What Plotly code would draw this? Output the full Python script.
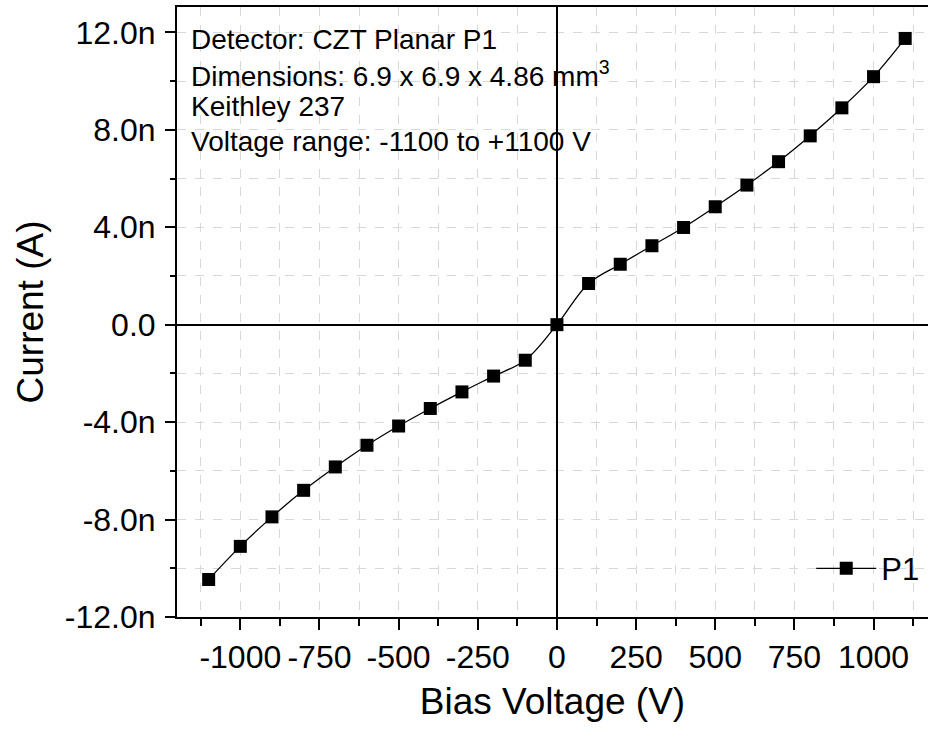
import plotly.graph_objects as go

# ---- data ----
bias_voltage = [-1100, -1000, -900, -800, -700, -600, -500, -400, -300, -200, -100,
                0, 100, 200, 300, 400, 500, 600, 700, 800, 900, 1000, 1100]
current_nA = [-10.46, -9.10, -7.89, -6.80, -5.84, -4.95, -4.16, -3.44, -2.76, -2.11, -1.46,
              0.0, 1.69, 2.48, 3.24, 3.99, 4.84, 5.73, 6.69, 7.75, 8.90, 10.18, 11.75]
series_name = "P1"

x_tick_vals = [-1000, -750, -500, -250, 0, 250, 500, 750, 1000]
x_tick_text = ["-1000", "-750", "-500", "-250", "0", "250", "500", "750", "1000"]
y_tick_vals = [-12, -8, -4, 0, 4, 8, 12]
y_tick_text = ["-12.0n", "-8.0n", "-4.0n", "0.0", "4.0n", "8.0n", "12.0n"]

info_lines = [
    "Detector: CZT Planar P1",
    "Dimensions: 6.9 x 6.9 x 4.86 mm<sup>3</sup>",
    "Keithley 237",
    "Voltage range: -1100 to +1100 V",
]

FONT = "Arial, Liberation Sans, sans-serif"
W, H = 928, 736
ML, MR, MT, MB = 177, 0, 7, 119

fig = go.Figure()
fig.add_trace(go.Scatter(
    x=bias_voltage, y=current_nA, name=series_name,
    mode="lines+markers",
    line=dict(color="black", width=1.3, shape="spline", smoothing=1.0),
    marker=dict(symbol="square", size=13, color="black"),
))

axis_common = dict(
    showline=True, linecolor="black", linewidth=2,
    ticks="outside", tickcolor="black", tickwidth=2,
    showgrid=False,
    zeroline=True, zerolinecolor="black", zerolinewidth=2.2,
    tickfont=dict(family=FONT, size=32, color="black"),
)

fig.update_xaxes(
    **axis_common,
    range=[-1200, 1172],
    tickmode="array", tickvals=x_tick_vals, ticktext=x_tick_text,
    ticklen=11,
    minor=dict(dtick=125, tick0=0, ticks="outside", ticklen=7, tickcolor="black",
               tickwidth=2, showgrid=True, gridcolor="#d8d8d8", griddash="dash", gridwidth=1),
    mirror=True,
    ticklabelstandoff=0,
    title=dict(text="Bias Voltage (V)", font=dict(family=FONT, size=37, color="black"), standoff=14),
)
fig.update_yaxes(
    **axis_common,
    range=[-12, 13.04],
    tickmode="array", tickvals=y_tick_vals, ticktext=y_tick_text,
    ticklen=10,
    minor=dict(dtick=2, tick0=0, ticks="outside", ticklen=5, tickcolor="black",
               tickwidth=2, showgrid=True, gridcolor="#d8d8d8", griddash="dash", gridwidth=1),
    mirror=False,
    ticklabelstandoff=3,
    title=dict(text="Current (A)", font=dict(family=FONT, size=37, color="black"), standoff=10),
)

plot_h = H - MT - MB
line_centers_px = [39, 74, 107, 141]
for txt, py in zip(info_lines, line_centers_px):
    fig.add_annotation(
        text=txt, xref="paper", yref="paper",
        x=(189 - ML) / (W - ML - MR), y=(H - MB - py) / plot_h,
        xanchor="left", yanchor="middle", showarrow=False,
        font=dict(family=FONT, size=28, color="black"),
    )

fig.update_layout(
    width=W, height=H,
    margin=dict(l=ML, r=MR, t=MT, b=MB, autoexpand=False),
    paper_bgcolor="white", plot_bgcolor="white",
    showlegend=True,
    legend=dict(x=0.995, y=0.035, xanchor="right", yanchor="bottom",
                bgcolor="rgba(0,0,0,0)", font=dict(family=FONT, size=31, color="black"),
                itemwidth=60),
)

fig.write_html("out.html")
